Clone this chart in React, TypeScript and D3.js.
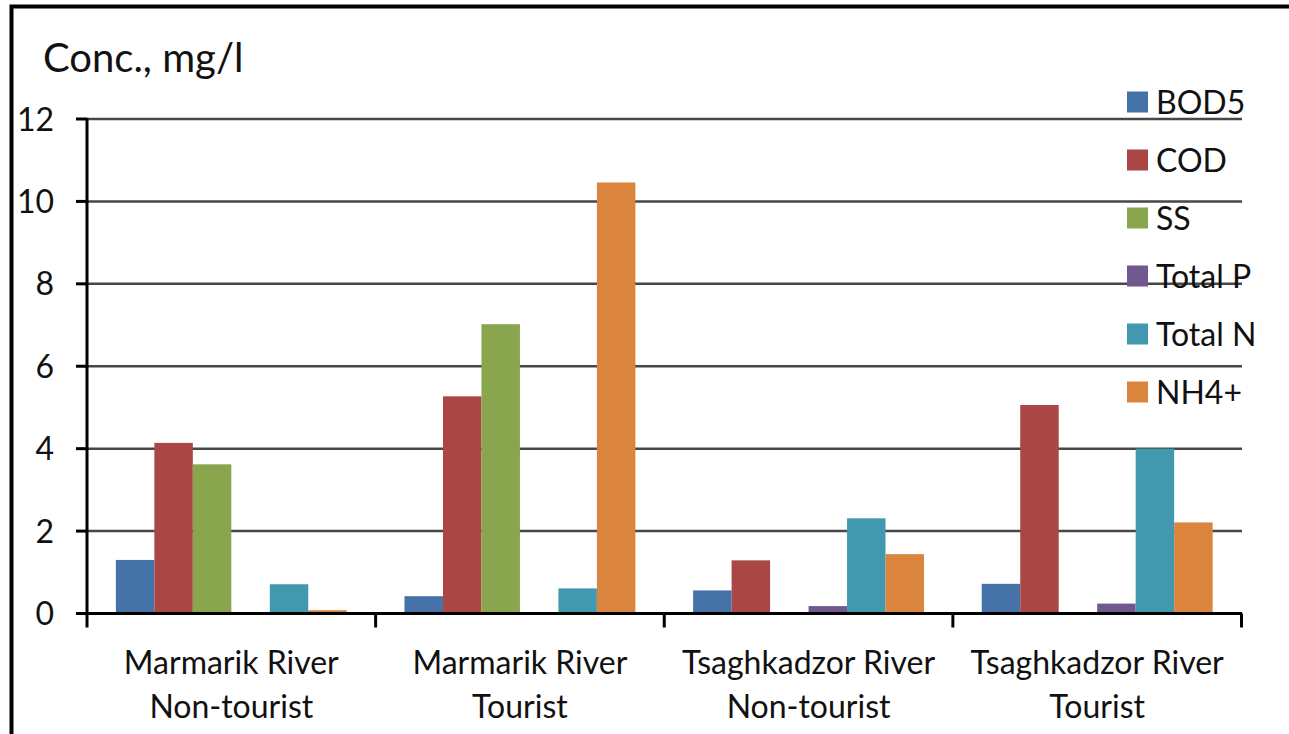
import React from "react";
import * as d3 from "d3";

const categories = [
  ["Marmarik River", "Non-tourist"],
  ["Marmarik River", "Tourist"],
  ["Tsaghkadzor River", "Non-tourist"],
  ["Tsaghkadzor River", "Tourist"],
];
const seriesNames = ["BOD5", "COD", "SS", "Total P", "Total N", "NH4+"];
const seriesColors = ["#4572A7", "#AA4643", "#89A54E", "#71588F", "#4198AF", "#DB843D"];
const bod5 = [1.3, 0.42, 0.56, 0.72];
const cod = [4.14, 5.27, 1.29, 5.06];
const ss = [3.62, 7.02, 0, 0];
const totalP = [0, 0, 0.18, 0.24];
const totalN = [0.71, 0.61, 2.31, 4.0];
const nh4 = [0.08, 10.46, 1.44, 2.21];
const seriesValues = [bod5, cod, ss, totalP, totalN, nh4];
const yTicks = [0, 2, 4, 6, 8, 10, 12];

const W = 1289;
const H = 734;
const FONT = "Lato, 'Open Sans', sans-serif";

export default function App() {
  const x = d3.scaleBand<number>().domain(d3.range(categories.length)).range([87, 1241.5]).padding(0);
  const bw = x.bandwidth() / 7.5;
  const y = d3.scaleLinear().domain([0, 12]).range([613.5, 119]);
  const x0 = 87;
  const x1 = 1242;

  return (
    <svg width={W} height={H} style={{ position: "absolute", left: 0, top: 0, background: "#fff" }} fontFamily={FONT}>
      <rect x={0} y={0} width={W} height={H} fill="#fff" />
      {/* frame */}
      <path d={`M11.5,${H + 5} V6.5 H${W + 5}`} fill="none" stroke="#000" strokeWidth={4} />
      {/* title */}
      <text x={43} y={72} fontSize={40} fill="#111">Conc., mg/l</text>
      {/* gridlines */}
      {yTicks.filter((t) => t > 0).map((t) => (
        <line key={t} x1={x0} x2={x1} y1={y(t)} y2={y(t)} stroke="#474747" strokeWidth={2.5} />
      ))}
      {/* bars */}
      {seriesValues.map((vals, si) =>
        vals.map((v, ci) =>
          v > 0 ? (
            <rect
              key={`${si}-${ci}`}
              x={(x(ci) as number) + 0.75 * bw + si * bw}
              y={y(v)}
              width={bw}
              height={y(0) - y(v)}
              fill={seriesColors[si]}
            />
          ) : null
        )
      )}
      {/* y axis */}
      <line x1={x0} x2={x0} y1={y(12) - 1} y2={y(0)} stroke="#000" strokeWidth={3} />
      {yTicks.map((t) => (
        <g key={t}>
          <line x1={76} x2={x0} y1={y(t)} y2={y(t)} stroke="#000" strokeWidth={3} />
          <text x={54} y={y(t)} dy="0.36em" textAnchor="end" fontSize={32} fill="#111">
            {t}
          </text>
        </g>
      ))}
      {/* x axis */}
      <line x1={76} x2={x1} y1={y(0)} y2={y(0)} stroke="#000" strokeWidth={3} />
      {d3.range(categories.length + 1).map((i) => {
        const xi = i < categories.length ? (x(i) as number) : (x(categories.length - 1) as number) + x.bandwidth();
        return <line key={i} x1={xi} x2={xi} y1={y(0)} y2={y(0) + 14} stroke="#000" strokeWidth={3} />;
      })}
      {categories.map((c, i) => (
        <text key={i} textAnchor="middle" fontSize={32} fill="#111">
          <tspan x={(x(i) as number) + x.bandwidth() / 2} y={674}>{c[0]}</tspan>
          <tspan x={(x(i) as number) + x.bandwidth() / 2} y={718}>{c[1]}</tspan>
        </text>
      ))}
      {/* legend */}
      {seriesNames.map((n, i) => {
        const cy = 102 + i * 58;
        return (
          <g key={n}>
            <rect x={1127} y={cy - 10.5} width={21} height={21} fill={seriesColors[i]} />
            <text x={1156} y={cy} dy="0.36em" fontSize={32} fill="#111">{n}</text>
          </g>
        );
      })}
    </svg>
  );
}
